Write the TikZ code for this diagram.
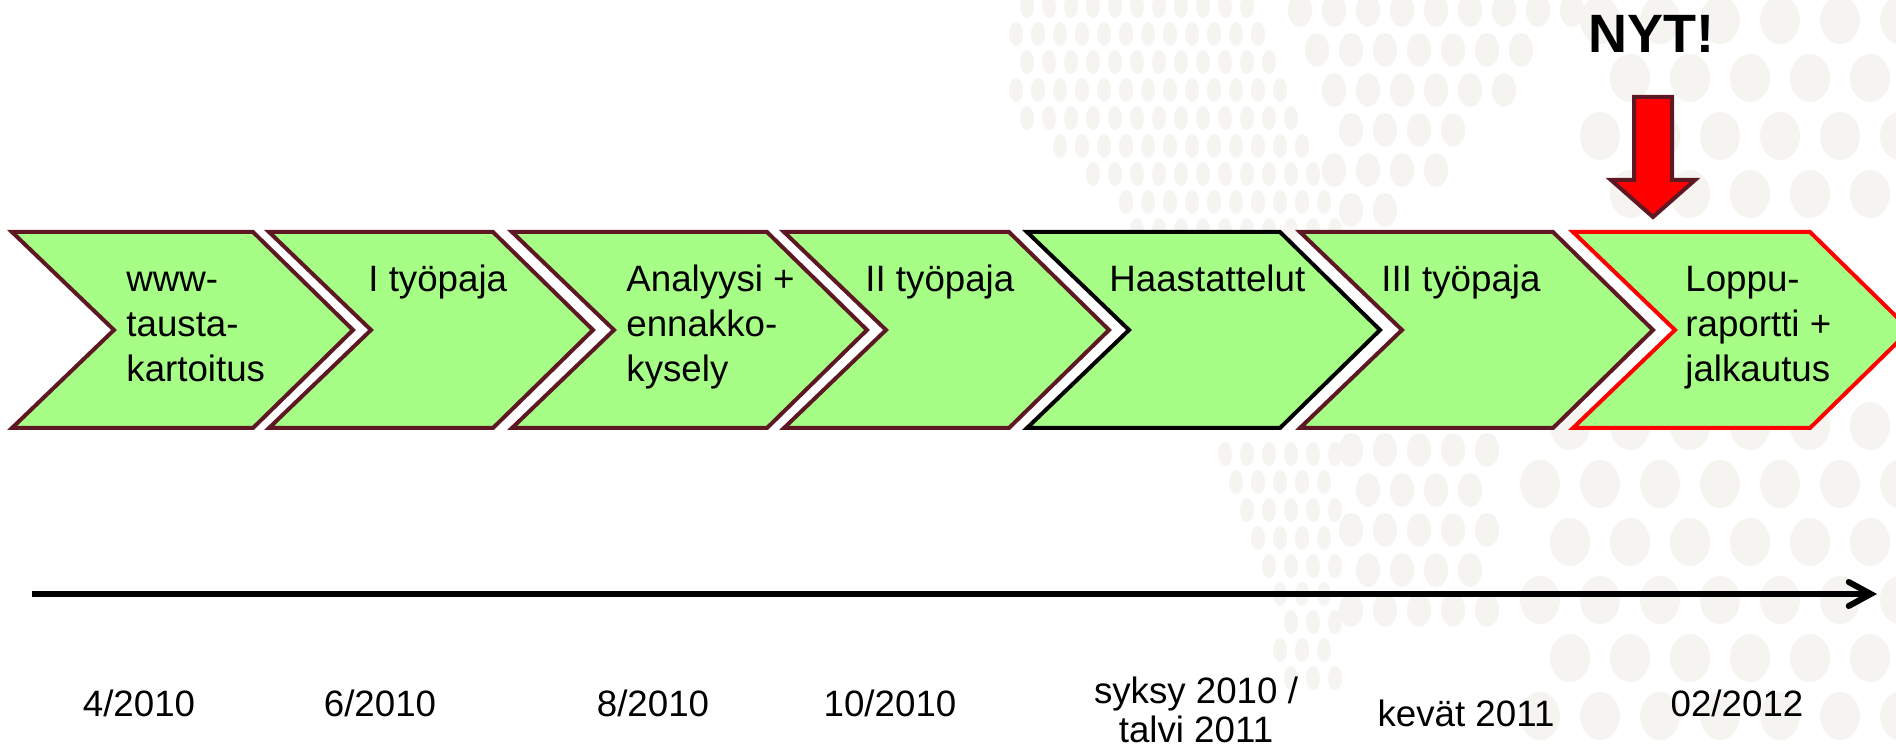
\documentclass[tikz,border=0pt]{standalone}
\usepackage{fontspec}
\setmainfont{Liberation Sans}
\usetikzlibrary{arrows.meta}

\definecolor{chevgreen}{RGB}{166,254,134}
\definecolor{chevrim}{RGB}{94,24,36}
\definecolor{dotgray}{RGB}{245,244,240}

\begin{document}
\begin{tikzpicture}[x=0.5pt,y=-0.5pt,
    chev/.style={fill=chevgreen,line width=2pt},
    lbl/.style={anchor=base west,align=left,inner sep=0pt,font=\fontsize{18.35}{22.5}\selectfont},
    when/.style={anchor=base,align=center,inner sep=0pt,font=\fontsize{18.35}{19.5}\selectfont},
    bgdot/.style={fill=dotgray}]
    \clip (0,0) rectangle (1896,748);

    % faint dots of the slide background
    \foreach \i in {0,...,16}{\foreach \j in {0,...,24}{
        \pgfmathsetmacro\dotx{1005+22*\i+11*mod(\j,2)}
        \pgfmathsetmacro\doty{6+28*\j}
        \pgfmathtruncatemacro\ok{((\doty<235)&&(\dotx>1012+max(0,\doty-110))&&(\dotx<1250+0.4*\doty))
            || ((\doty>440)&&(\doty<690)&&(\dotx>1215+0.3*(\doty-440))&&(\dotx<1340))}
        \ifnum\ok=1 \fill[bgdot] (\dotx,\doty) ellipse [x radius=7, y radius=12]; \fi
    }}
    \foreach \i in {0,...,18}{\foreach \j in {0,...,16}{
        \pgfmathsetmacro\dotx{1300+34*\i+17*mod(\j,2)}
        \pgfmathsetmacro\doty{10+40*\j}
        \pgfmathtruncatemacro\ok{((\doty<215)&&(\dotx>1290+0.25*\doty)&&(\dotx<1590-0.9*\doty))
            || ((\doty>430)&&(\doty<650)&&(\dotx>1345)&&(\dotx<1500))}
        \ifnum\ok=1 \fill[bgdot] (\dotx,\doty) ellipse [x radius=12, y radius=17]; \fi
    }}
    \foreach \i in {0,...,7}{\foreach \j in {0,...,13}{
        \pgfmathsetmacro\dotx{1540+60*\i+30*mod(\j,2)}
        \pgfmathsetmacro\doty{20+58*\j}
        \pgfmathtruncatemacro\ok{((\doty<240)&&(\dotx>1570)) || ((\doty>420)&&(\dotx>1510))}
        \ifnum\ok=1 \fill[bgdot] (\dotx,\doty) ellipse [x radius=20, y radius=24]; \fi
    }}

    % phases
    \foreach \l/\r/\c in {12/253/chevrim, 269/493/chevrim, 512/767/chevrim, 784/1009/chevrim,
                          1027/1280/black, 1300/1553/chevrim, 1573/1810/red}
        \filldraw[chev,draw=\c] (\l,232) -- (\r,232) -- ({\r+100},330) -- (\r,428)
            -- (\l,428) -- ({\l+102},330) -- cycle;

    \node[lbl] (www) at (126,382) {www-\\tausta-\\kartoitus};
    \node[lbl] (ws1) at (368,292) {I työpaja};
    \node[lbl] (ana) at (626,382) {Analyysi +\\ennakko-\\kysely};
    \node[lbl] (ws2) at (865,292) {II työpaja};
    \node[lbl] (haa) at (1109,292) {Haastattelut};
    \node[lbl] (ws3) at (1381,292) {III työpaja};
    \node[lbl] (rep) at (1685,382) {Loppu-\\raportti +\\jalkautus};

    % now
    \node[anchor=base,inner sep=0pt,font=\fontsize{27}{32}\selectfont\bfseries] (nyt) at (1651,53) {NYT!};
    \filldraw[fill=red,draw=chevrim,line width=2pt] (1634,97) -- (1672,97) -- (1672,180) -- (1695,180)
        -- (1653,217) -- (1611,180) -- (1634,180) -- cycle;

    % time axis
    \coordinate (t0) at (32,594);
    \coordinate (t1) at (1877,594);
    \draw[line width=3pt,-{Straight Barb[length=11pt,width=12pt,line cap=round]}] (t0) -- (t1);

    \node[when] (d1) at (139,716) {4/2010};
    \node[when] (d2) at (380,716) {6/2010};
    \node[when] (d3) at (653,716) {8/2010};
    \node[when] (d4) at (890,716) {10/2010};
    \node[when] (d5) at (1196,742) {syksy 2010 /\\talvi 2011};
    \node[when] (d6) at (1466,726) {kevät 2011};
    \node[when] (d7) at (1737,716) {02/2012};
\end{tikzpicture}
\end{document}
